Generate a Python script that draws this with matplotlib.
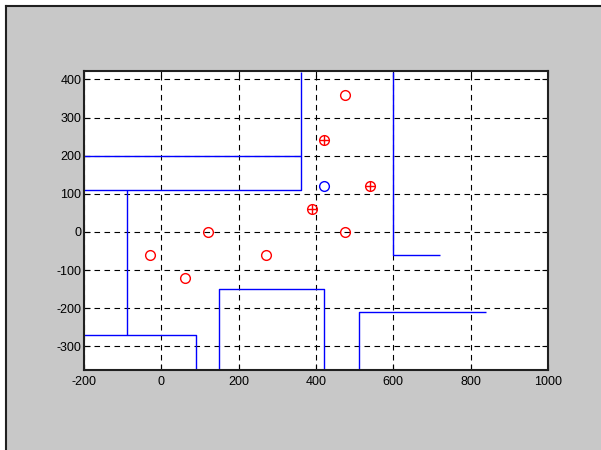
import matplotlib
matplotlib.use("Agg")
import matplotlib.pyplot as plt
from matplotlib.patches import Rectangle
from matplotlib.lines import Line2D

plt.rcParams['font.family'] = ['Liberation Sans', 'DejaVu Sans']
plt.rcParams['axes.unicode_minus'] = False

# Wall polylines (x list, y list)
walls_x = [
    [360, 360, -200],
    [-200, 360],
    [-90, -90],
    [-200, 90, 90],
    [150, 150, 420, 420],
    [600, 600, 720],
    [510, 510, 840],
]
walls_y = [
    [420, 110, 110],
    [200, 200],
    [110, -270],
    [-270, -270, -360],
    [-360, -150, -150, -360],
    [420, -60, -60],
    [-360, -210, -210],
]

# Plain red circles
red_x = [475, 475, 120, -30, 270, 60]
red_y = [360, 0, 0, -60, -60, -120]

# Red circles with a cross
cross_x = [420, 540, 390]
cross_y = [240, 120, 60]

# Blue circle
blue_x = [420]
blue_y = [120]

xticks = [-200, 0, 200, 400, 600, 800, 1000]
yticks = [-300, -200, -100, 0, 100, 200, 300, 400]

fig = plt.figure(figsize=(6.01, 4.5), dpi=100)
fig.patch.set_facecolor('white')

# Grey window panel with dark left/top edge
W, H = 601, 450
fig.add_artist(Rectangle((6 / W, 0), 1, 1 - 6 / H, transform=fig.transFigure,
                         facecolor='#c8c8c8', edgecolor='none', zorder=-10))
fig.add_artist(Line2D([6 / W, 6 / W], [0, 1 - 6 / H], transform=fig.transFigure,
                      color='#202020', lw=1.5, zorder=-5))
fig.add_artist(Line2D([6 / W, 1], [1 - 6 / H, 1 - 6 / H], transform=fig.transFigure,
                      color='#202020', lw=1.5, zorder=-5))

ax = fig.add_axes([84 / W, 1 - 370 / H, (548 - 84) / W, (370 - 71) / H])
ax.set_facecolor('white')

for xs, ys in zip(walls_x, walls_y):
    ax.plot(xs, ys, color='#0000ff', lw=1.0, solid_capstyle='butt')

ax.plot(red_x, red_y, 'o', mfc='none', mec='red', ms=7, mew=1.0)
ax.plot(cross_x, cross_y, 'o', mfc='none', mec='red', ms=7, mew=1.0)
ax.plot(cross_x, cross_y, '+', color='red', ms=7, mew=1.0)
ax.plot(blue_x, blue_y, 'o', mfc='none', mec='blue', ms=7, mew=1.0)

ax.set_xlim(-200, 1000)
ax.set_ylim(-362, 422)
ax.set_xticks(xticks)
ax.set_yticks(yticks)
ax.grid(True, color='black', linestyle=(0, (5, 4)), linewidth=0.8)
ax.set_axisbelow(True)
ax.tick_params(direction='in', top=True, right=True, length=4, width=0.8,
               labelsize=9, colors='black')
ax.tick_params(axis='y', pad=2)
ax.tick_params(axis='x', pad=4)
for s in ax.spines.values():
    s.set_linewidth(1.5)
    s.set_color('#202020')

fig.savefig('out.png', dpi=100)
